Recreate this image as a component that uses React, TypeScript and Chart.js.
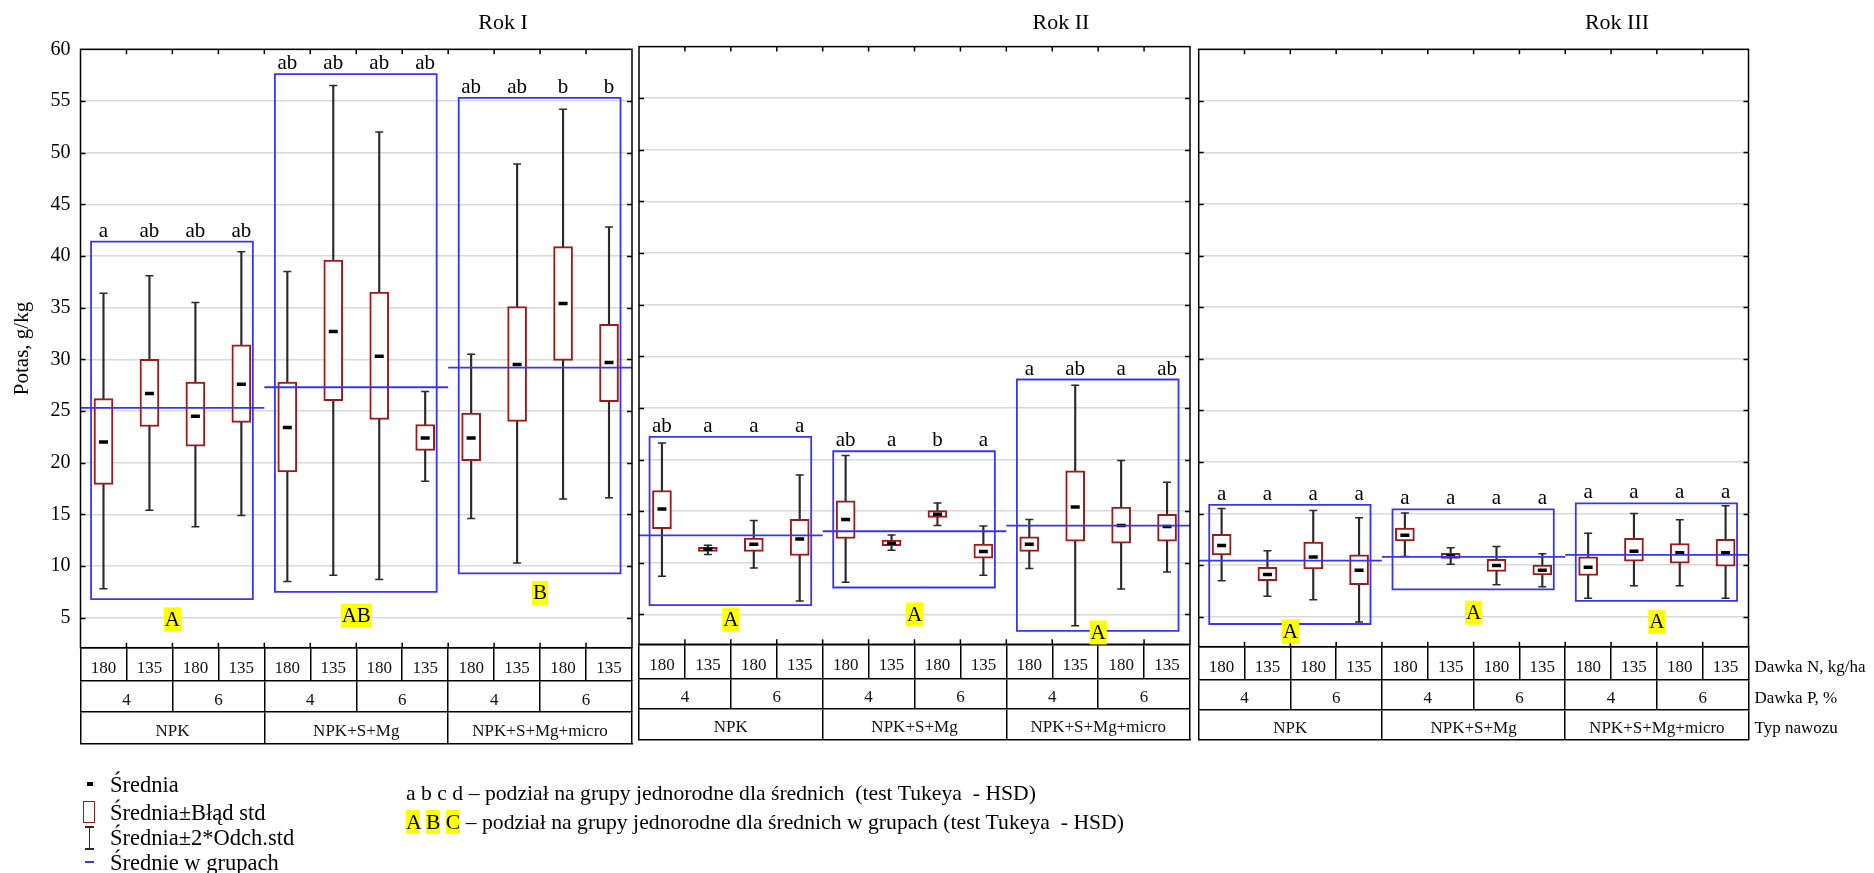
import React, { useEffect, useRef } from 'react';
import { Chart, registerables } from 'chart.js';

Chart.register(...registerables);

const W = 1874;
const H = 873;
const FONT = '"Liberation Serif", "Times New Roman", serif';

// ---------------- data ----------------
const years = ['Rok I', 'Rok II', 'Rok III'];
const doseN = ['180', '135', '180', '135', '180', '135', '180', '135', '180', '135', '180', '135'];
const doseP = ['4', '6', '4', '6', '4', '6'];
const fertilizerType = ['NPK', 'NPK+S+Mg', 'NPK+S+Mg+micro'];
const rowNames = ['Dawka N, kg/ha', 'Dawka P, %', 'Typ nawozu'];

// Rok I
const rok1Mean = [22.0, 26.7, 24.5, 27.6, 23.4, 32.7, 30.3, 22.4, 22.4, 29.5, 35.4, 29.7];
const rok1SeLow = [17.9, 23.5, 21.6, 23.9, 19.1, 26.0, 24.2, 21.2, 20.2, 24.0, 29.9, 25.9];
const rok1SeHigh = [26.2, 30.0, 27.8, 31.4, 27.8, 39.6, 36.5, 23.7, 24.8, 35.1, 40.9, 33.4];
const rok1SdLow = [7.8, 15.4, 13.8, 14.9, 8.5, 9.1, 8.7, 18.2, 14.6, 10.3, 16.5, 16.6];
const rok1SdHigh = [36.4, 38.1, 35.5, 40.4, 38.5, 56.5, 52.0, 26.9, 30.5, 48.9, 54.2, 42.8];
const rok1GroupMean = [25.3, 27.3, 29.2];
const rok1GroupTop = [41.4, 57.6, 55.3];
const rok1GroupBottom = [6.8, 7.5, 9.3];
const rok1Letters = ['a', 'ab', 'ab', 'ab', 'ab', 'ab', 'ab', 'ab', 'ab', 'ab', 'b', 'b'];
const rok1GroupLetters = ['A', 'AB', 'B'];
const rok1GroupLetterAt = [4.85, 5.2, 7.4];

// Rok II
const rok2Mean = [15.2, 11.3, 11.8, 12.3, 14.2, 11.9, 14.7, 11.1, 11.8, 15.4, 13.6, 13.5];
const rok2SeLow = [13.3, 11.1, 11.1, 10.7, 12.35, 11.65, 14.4, 10.45, 11.1, 12.1, 11.9, 12.1];
const rok2SeHigh = [17.0, 11.5, 12.4, 14.2, 16.0, 12.2, 15.05, 11.8, 12.5, 18.9, 15.4, 14.7];
const rok2SdLow = [8.7, 10.8, 9.5, 6.3, 8.1, 11.2, 13.6, 8.8, 9.45, 3.9, 7.45, 9.1];
const rok2SdHigh = [21.6, 11.7, 14.1, 18.5, 20.4, 12.7, 15.8, 13.55, 14.2, 27.2, 19.9, 17.8];
const rok2GroupMean = [12.65, 13.05, 13.6];
const rok2GroupTop = [22.2, 20.8, 27.75];
const rok2GroupBottom = [5.9, 7.6, 3.4];
const rok2Letters = ['ab', 'a', 'a', 'a', 'ab', 'a', 'b', 'a', 'a', 'ab', 'a', 'ab'];
const rok2GroupLetters = ['A', 'A', 'A'];
const rok2GroupLetterAt = [4.5, 5.0, 3.25];

// Rok III
const rok3Mean = [11.9, 9.1, 10.8, 9.5, 12.9, 10.9, 9.96, 9.5, 9.8, 11.35, 11.2, 11.2];
const rok3SeLow = [11.0, 8.5, 9.65, 8.1, 12.35, 10.65, 9.4, 9.06, 9.0, 10.4, 10.2, 9.9];
const rok3SeHigh = [13.0, 9.8, 12.25, 11.0, 13.6, 11.15, 10.57, 10.0, 10.8, 12.6, 12.1, 12.5];
const rok3SdLow = [8.5, 7.0, 6.65, 4.5, 10.85, 10.1, 8.1, 7.9, 6.8, 8.0, 8.0, 6.8];
const rok3SdHigh = [15.5, 11.4, 15.3, 14.6, 15.05, 11.7, 11.8, 11.1, 13.1, 15.0, 14.4, 15.75];
const rok3GroupMean = [10.45, 10.8, 11.0];
const rok3GroupTop = [15.85, 15.4, 16.0];
const rok3GroupBottom = [4.3, 7.65, 6.55];
const rok3Letters = ['a', 'a', 'a', 'a', 'a', 'a', 'a', 'a', 'a', 'a', 'a', 'a'];
const rok3GroupLetters = ['A', 'A', 'A'];
const rok3GroupLetterAt = [3.6, 5.4, 4.5];

const yMin = 2.1;
const yMax = 60;
const yStep = 5;

// ---------------- panels ----------------
type Panel = {
  title: string;
  mean: number[]; seLow: number[]; seHigh: number[]; sdLow: number[]; sdHigh: number[];
  groupMean: number[]; groupTop: number[]; groupBottom: number[];
  letters: string[]; groupLetters: string[]; groupLetterAt: number[];
};

const panels: Panel[] = [
  { title: years[0], mean: rok1Mean, seLow: rok1SeLow, seHigh: rok1SeHigh, sdLow: rok1SdLow, sdHigh: rok1SdHigh,
    groupMean: rok1GroupMean, groupTop: rok1GroupTop, groupBottom: rok1GroupBottom,
    letters: rok1Letters, groupLetters: rok1GroupLetters, groupLetterAt: rok1GroupLetterAt },
  { title: years[1], mean: rok2Mean, seLow: rok2SeLow, seHigh: rok2SeHigh, sdLow: rok2SdLow, sdHigh: rok2SdHigh,
    groupMean: rok2GroupMean, groupTop: rok2GroupTop, groupBottom: rok2GroupBottom,
    letters: rok2Letters, groupLetters: rok2GroupLetters, groupLetterAt: rok2GroupLetterAt },
  { title: years[2], mean: rok3Mean, seLow: rok3SeLow, seHigh: rok3SeHigh, sdLow: rok3SdLow, sdHigh: rok3SdHigh,
    groupMean: rok3GroupMean, groupTop: rok3GroupTop, groupBottom: rok3GroupBottom,
    letters: rok3Letters, groupLetters: rok3GroupLetters, groupLetterAt: rok3GroupLetterAt },
];

type Frame = { left: number; right: number; top: number; plotBottom: number; rows: number[]; titleX: number; yAxis: boolean; rowNames: boolean };
const frames: Frame[] = [
  { left: 80.5, right: 632, top: 49.3, plotBottom: 647.7, rows: [33.3, 30.7, 31.6], titleX: 503, yAxis: true, rowNames: false },
  { left: 639, right: 1190, top: 46.6, plotBottom: 644.3, rows: [34.4, 29.6, 31], titleX: 1061, yAxis: false, rowNames: false },
  { left: 1198.7, right: 1748.5, top: 49.3, plotBottom: 646.7, rows: [33.3, 30, 30], titleX: 1617, yAxis: false, rowNames: true },
];

const RED = '#9b1b1b';
const BLUE = '#3535f5';
const WHISK = '#2b2b2b';

function rowAxis(labels: string[], weight: number, h: number) {
  return {
    type: 'category',
    labels,
    position: 'bottom',
    weight,
    offset: true,
    grid: { display: true, offset: true, drawOnChartArea: false, drawTicks: true, tickLength: h, color: '#000', lineWidth: 1.5 },
    border: { display: true, color: '#000', width: 1.5 },
    ticks: {
      autoSkip: false, maxRotation: 0, minRotation: 0, color: '#111',
      font: { family: FONT, size: 17, lineHeight: 1.2 },
      padding: -h / 2 - 6.2,
    },
    afterFit: (s: any) => { s.height = h; },
  };
}

function makeDecor(p: Panel, f: Frame, idx: number) {
  return {
    id: 'decor' + idx,
    afterDatasetsDraw(chart: any) {
      const { ctx, chartArea: a, scales } = chart;
      const x = scales.x, xl = scales.xl, y = scales.y;
      const perGroup = doseN.length / fertilizerType.length;
      ctx.save();
      ctx.strokeStyle = '#000';
      ctx.lineWidth = 1.5;
      ctx.strokeRect(a.left, a.top, a.right - a.left, a.bottom - a.top);
      ctx.beginPath();
      y.ticks.forEach((t: any) => {
        if (t.value >= yMax) return;
        const py = Math.round(y.getPixelForValue(t.value)) + 0.5;
        ctx.moveTo(a.left, py); ctx.lineTo(a.left + 5, py);
        ctx.moveTo(a.right - 5, py); ctx.lineTo(a.right, py);
      });
      for (let i = 1; i < doseN.length; i++) {
        const px = xl.getPixelForValue(i - 0.5);
        ctx.moveTo(px, a.top); ctx.lineTo(px, a.top + 5);
        ctx.moveTo(px, a.bottom - 5); ctx.lineTo(px, a.bottom);
      }
      ctx.stroke();

      // letters above group boxes
      ctx.fillStyle = '#000';
      ctx.font = `21px ${FONT}`;
      ctx.textAlign = 'center';
      ctx.textBaseline = 'alphabetic';
      p.letters.forEach((t, i) => {
        const g = Math.floor(i / perGroup);
        ctx.fillText(t, x.getPixelForValue(i), y.getPixelForValue(p.groupTop[g]) - 5);
      });

      // group letters (yellow)
      p.groupLetters.forEach((t, g) => {
        const cx = xl.getPixelForValue(g * perGroup + (perGroup - 1) / 2);
        const cy = y.getPixelForValue(p.groupLetterAt[g]);
        const w = ctx.measureText(t).width;
        ctx.fillStyle = '#ffff00';
        ctx.fillRect(cx - w / 2 - 1, cy - 12, w + 2, 24);
        ctx.fillStyle = '#000';
        ctx.textBaseline = 'middle';
        ctx.fillText(t, cx, cy + 1);
      });
      ctx.restore();
    },
    afterDraw(chart: any) {
      const { ctx, chartArea: a, scales } = chart;
      ctx.save();
      ctx.fillStyle = '#000';
      ctx.font = `22px ${FONT}`;
      ctx.textAlign = 'center';
      ctx.textBaseline = 'middle';
      ctx.fillText(p.title, f.titleX, 23);
      if (f.rowNames) {
        ctx.font = `17px ${FONT}`;
        ctx.textAlign = 'left';
        ['x', 'xP', 'xT'].forEach((id, r) => {
          const s = scales[id];
          ctx.fillText(rowNames[r], a.right + 6, (s.top + s.bottom) / 2 + 4);
        });
      }
      ctx.restore();
    },
  };
}

function buildConfig(p: Panel, f: Frame, idx: number): any {
  const perGroup = doseN.length / fertilizerType.length;
  const rowsTotal = f.rows.reduce((s, v) => s + v, 0);
  const meanLine = p.groupMean.flatMap((m, g) => [
    { x: g * perGroup - 0.5, y: m },
    { x: (g + 1) * perGroup - 0.5, y: m },
    { x: (g + 1) * perGroup - 0.5, y: null },
  ]);
  const boxes = p.groupTop.flatMap((t, g) => {
    const x0 = g * perGroup - 0.5 + 0.23;
    const x1 = (g + 1) * perGroup - 0.5 - 0.25;
    const b = p.groupBottom[g];
    return [
      { x: x0, y: t }, { x: x1, y: t }, { x: x1, y: b }, { x: x0, y: b }, { x: x0, y: t }, { x: x1, y: t },
      { x: x1, y: null },
    ];
  });
  const yLeftBox = 10;
  return {
    type: 'bar',
    data: {
      labels: doseN,
      datasets: [
        { type: 'bar', label: 'sd', data: p.sdLow.map((v, i) => [v, p.sdHigh[i]]), xAxisID: 'x', yAxisID: 'y',
          backgroundColor: WHISK, borderWidth: 0, barThickness: 1.5, grouped: false, order: 6 },
        { type: 'bar', label: 'se', data: p.seLow.map((v, i) => [v, p.seHigh[i]]), xAxisID: 'x', yAxisID: 'y',
          backgroundColor: '#ffffff', borderColor: RED, borderWidth: 2, borderSkipped: false, barThickness: 19, grouped: false, order: 5 },
        { type: 'line', label: 'capHi', data: p.sdHigh, xAxisID: 'x', yAxisID: 'y', showLine: false,
          pointStyle: 'line', pointRadius: 4, pointBorderWidth: 1.5, pointBorderColor: WHISK, order: 4 },
        { type: 'line', label: 'capLo', data: p.sdLow, xAxisID: 'x', yAxisID: 'y', showLine: false,
          pointStyle: 'line', pointRadius: 4, pointBorderWidth: 1.5, pointBorderColor: WHISK, order: 4 },
        { type: 'line', label: 'mean', data: p.mean, xAxisID: 'x', yAxisID: 'y', showLine: false,
          pointStyle: 'line', pointRadius: 4.5, pointBorderWidth: 3.5, pointBorderColor: '#000', order: 3 },
        { type: 'line', label: 'groupBox', data: boxes, xAxisID: 'xl', yAxisID: 'y', borderColor: BLUE, borderWidth: 1.8,
          pointRadius: 0, spanGaps: false, tension: 0, fill: false, borderJoinStyle: 'miter', order: 2 },
        { type: 'line', label: 'groupMean', data: meanLine, xAxisID: 'xl', yAxisID: 'y', borderColor: BLUE, borderWidth: 1.8,
          pointRadius: 0, spanGaps: false, tension: 0, fill: false, order: 1 },
      ],
    },
    options: {
      responsive: false,
      maintainAspectRatio: false,
      devicePixelRatio: 1,
      animation: false,
      events: [],
      layout: {
        padding: {
          left: f.yAxis ? yLeftBox : f.left,
          right: W - f.right,
          top: f.top,
          bottom: H - f.plotBottom - rowsTotal,
        },
      },
      plugins: { legend: { display: false }, tooltip: { enabled: false }, title: { display: false } },
      scales: {
        y: {
          type: 'linear', position: 'left', min: yMin, max: yMax,
          ticks: { stepSize: yStep, includeBounds: false, display: f.yAxis, color: '#000', padding: 10,
            font: { family: FONT, size: 20 } },
          grid: { color: '#d9d9d9', lineWidth: 1.5, drawTicks: false },
          border: { display: false },
          title: { display: f.yAxis, text: 'Potas, g/kg', color: '#000', font: { family: FONT, size: 21 }, padding: { top: 0, bottom: 0 } },
          afterFit: (s: any) => { s.width = f.yAxis ? f.left - yLeftBox : 0; },
        },
        xl: { type: 'linear', position: 'bottom', display: false, offset: false, grid: { offset: false },
          min: -0.5, max: doseN.length - 0.5, weight: 0 },
        x: rowAxis(doseN, 1, f.rows[0]),
        xP: rowAxis(doseP, 2, f.rows[1]),
        xT: rowAxis(fertilizerType, 3, f.rows[2]),
        xEnd: {
          type: 'category', labels: [''], position: 'bottom', weight: 4,
          grid: { display: false }, ticks: { display: false },
          border: { display: true, color: '#000', width: 1.5 },
          afterFit: (s: any) => { s.height = 0; },
        },
      },
    },
    plugins: [makeDecor(p, f, idx)],
  };
}

// ---------------- legend texts ----------------
const legendItems = ['Średnia', 'Średnia±Błąd std', 'Średnia±2*Odch.std', 'Średnie w grupach'];
const legendRowY = [784, 812, 837.5, 862];
const noteSmallLetters = 'a b c d';
const noteSmall = ' – podział na grupy jednorodne dla średnich  (test Tukeya  - HSD)';
const noteBigLetters = ['A', 'B', 'C'];
const noteBig = ' – podział na grupy jednorodne dla średnich w grupach (test Tukeya  - HSD)';

function Txt({ x, cy, size, children }: { x: number; cy: number; size: number; children: any }) {
  const lh = Math.round(size * 1.2);
  return (
    <div style={{ position: 'absolute', left: x, top: cy - lh / 2, font: `${size}px ${FONT}`, lineHeight: `${lh}px`,
      whiteSpace: 'pre', color: '#000' }}>{children}</div>
  );
}

export default function App() {
  const r0 = useRef<HTMLCanvasElement>(null);
  const r1 = useRef<HTMLCanvasElement>(null);
  const r2 = useRef<HTMLCanvasElement>(null);
  const refs = [r0, r1, r2];

  useEffect(() => {
    const charts = panels.map((p, i) => new Chart(refs[i].current as HTMLCanvasElement, buildConfig(p, frames[i], i)));
    return () => charts.forEach((c) => c.destroy());
  }, []);

  return (
    <div style={{ position: 'absolute', left: 0, top: 0, width: W, height: H, overflow: 'hidden', background: '#fff' }}>
      {refs.map((r, i) => (
        <canvas key={i} ref={r} width={W} height={H} style={{ position: 'absolute', left: 0, top: 0, width: W, height: H }} />
      ))}
      {/* legend markers */}
      <div style={{ position: 'absolute', left: 87, top: 782, width: 6, height: 4, background: '#000' }} />
      <div style={{ position: 'absolute', left: 83, top: 801, width: 12, height: 22, border: `1.5px solid ${RED}`, boxSizing: 'border-box' }} />
      <div style={{ position: 'absolute', left: 88.5, top: 826, width: 1.5, height: 23, background: WHISK }} />
      <div style={{ position: 'absolute', left: 85, top: 826, width: 9, height: 1.5, background: WHISK }} />
      <div style={{ position: 'absolute', left: 85, top: 848, width: 9, height: 1.5, background: WHISK }} />
      <div style={{ position: 'absolute', left: 85, top: 861, width: 9, height: 2, background: BLUE }} />
      {legendItems.map((t, i) => (
        <Txt key={t} x={110} cy={legendRowY[i]} size={22.5}>{t}</Txt>
      ))}
      <Txt x={406} cy={793} size={21.7}>{noteSmallLetters + noteSmall}</Txt>
      <Txt x={406} cy={822} size={21.7}>
        {noteBigLetters.map((l, i) => (
          <span key={l}>
            <span style={{ background: '#ffff00' }}>{l}</span>
            {i < noteBigLetters.length - 1 ? ' ' : ''}
          </span>
        ))}
        {noteBig}
      </Txt>
    </div>
  );
}
